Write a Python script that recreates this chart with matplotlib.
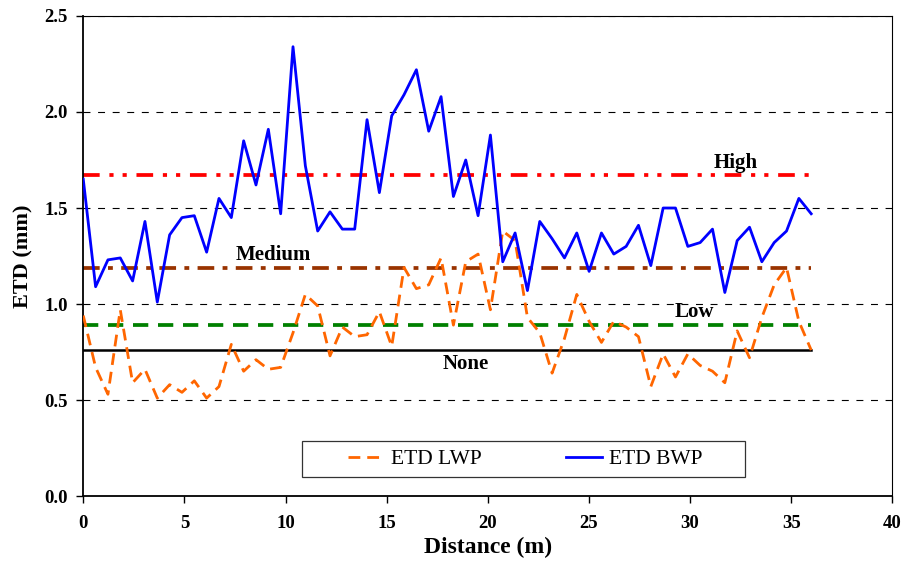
import matplotlib
matplotlib.use('Agg')
import matplotlib.pyplot as plt
from matplotlib.patches import Rectangle

plt.rcParams['font.family'] = ['Liberation Serif', 'DejaVu Serif']
plt.rcParams['lines.scale_dashes'] = False

# distance along the section (m), one reading every 2 ft
distance = [0.00, 0.61, 1.22, 1.83, 2.44, 3.05, 3.66, 4.27, 4.88, 5.49,
            6.10, 6.71, 7.32, 7.93, 8.54, 9.15, 9.76, 10.37, 10.98, 11.59,
            12.20, 12.81, 13.42, 14.03, 14.64, 15.25, 15.86, 16.47, 17.08, 17.69,
            18.30, 18.91, 19.52, 20.13, 20.74, 21.35, 21.96, 22.57, 23.18, 23.79,
            24.40, 25.01, 25.62, 26.23, 26.84, 27.45, 28.06, 28.67, 29.28, 29.89,
            30.50, 31.11, 31.72, 32.33, 32.94, 33.55, 34.16, 34.77, 35.38, 35.99]

etd_lwp = [0.94, 0.67, 0.53, 0.97, 0.59, 0.66, 0.51, 0.58, 0.54, 0.60,
           0.51, 0.57, 0.79, 0.65, 0.71, 0.66, 0.67, 0.85, 1.05, 0.99,
           0.73, 0.88, 0.83, 0.84, 0.96, 0.78, 1.19, 1.08, 1.10, 1.24,
           0.89, 1.22, 1.26, 0.97, 1.38, 1.33, 0.93, 0.85, 0.64, 0.82,
           1.05, 0.91, 0.80, 0.91, 0.88, 0.83, 0.57, 0.74, 0.62, 0.74,
           0.68, 0.65, 0.59, 0.86, 0.72, 0.93, 1.10, 1.19, 0.91, 0.76]

etd_bwp = [1.65, 1.09, 1.23, 1.24, 1.12, 1.43, 1.01, 1.36, 1.45, 1.46,
           1.27, 1.55, 1.45, 1.85, 1.62, 1.91, 1.47, 2.34, 1.72, 1.38,
           1.48, 1.39, 1.39, 1.96, 1.58, 1.98, 2.09, 2.22, 1.90, 2.08,
           1.56, 1.75, 1.46, 1.88, 1.22, 1.37, 1.07, 1.43, 1.34, 1.24,
           1.37, 1.17, 1.37, 1.26, 1.30, 1.41, 1.20, 1.50, 1.50, 1.30,
           1.32, 1.39, 1.06, 1.33, 1.40, 1.22, 1.32, 1.38, 1.55, 1.47]

# severity thresholds (mm)
level_names = ['High', 'Medium', 'Low', 'None']
level_values = [1.67, 1.19, 0.89, 0.76]
level_label_x = [32.25, 9.4, 30.2, 18.9]

level_styles = {
    'High':   dict(color='#FF0000', lw=2.7, dashes=(12, 7, 3, 6.5, 3, 7)),
    'Medium': dict(color='#993300', lw=2.7, dashes=(12, 6, 3.5, 6)),
    'Low':    dict(color='#008000', lw=2.7, dashes=(11, 7)),
    'None':   dict(color='#000000', lw=1.8, ls='-'),
}

fig = plt.figure(figsize=(9.07, 5.71), dpi=100)
ax = fig.add_axes([0.0918, 0.1313, 0.892, 0.8407])

for y in [0.5, 1.0, 1.5, 2.0, 2.5]:
    ax.axhline(y, color='black', lw=0.8, dashes=(5, 5.5), zorder=1)

for name, val, lx in zip(level_names, level_values, level_label_x):
    st = level_styles[name]
    ax.plot([distance[0], distance[-1]], [val, val], zorder=2, **st)
    # "None" sits under its line, the others above
    ly = val - 0.072 if name == 'None' else val + 0.066
    ax.text(lx, ly, name, ha='center', va='center',
            fontsize=15, fontweight='bold')

ax.plot(distance, etd_lwp, color='#FF6600', lw=2.0, dashes=(8.5, 5),
        label='ETD LWP', zorder=3)
ax.plot(distance, etd_bwp, color='#0000FF', lw=2.0, label='ETD BWP', zorder=3)

ax.set_xlim(0, 40)
ax.set_ylim(0, 2.5)
ax.set_xticks(range(0, 41, 5))
ax.set_yticks([0.0, 0.5, 1.0, 1.5, 2.0, 2.5])
ax.set_yticklabels(['0.0', '0.5', '1.0', '1.5', '2.0', '2.5'])
ax.tick_params(axis='both', direction='out', length=5, width=1, labelsize=13.5)
ax.tick_params(axis='x', pad=9)
ax.tick_params(axis='y', pad=6)
for lab in ax.get_xticklabels() + ax.get_yticklabels():
    lab.set_fontweight('bold')

for side in ['left', 'bottom']:
    ax.spines[side].set_linewidth(1.3)
for side in ['top', 'right']:
    ax.spines[side].set_linewidth(0.8)

ax.set_xlabel('Distance (m)', fontsize=17, fontweight='bold', labelpad=3)
ax.set_ylabel('ETD (mm)', fontsize=16, fontweight='bold', labelpad=8)

# legend box drawn separately (wide Excel-style frame)
ax.add_patch(Rectangle((0.2703, 0.0396), 0.5477, 0.075, transform=ax.transAxes,
                       facecolor='white', edgecolor='#333333', lw=0.9, zorder=4))
leg = ax.legend(loc='center', bbox_to_anchor=(0.546, 0.077), ncol=2,
                frameon=False, fontsize=15.5, handlelength=1.7,
                handletextpad=0.3, columnspacing=3.9)
leg.set_zorder(5)

fig.savefig('out.png', dpi=100)
